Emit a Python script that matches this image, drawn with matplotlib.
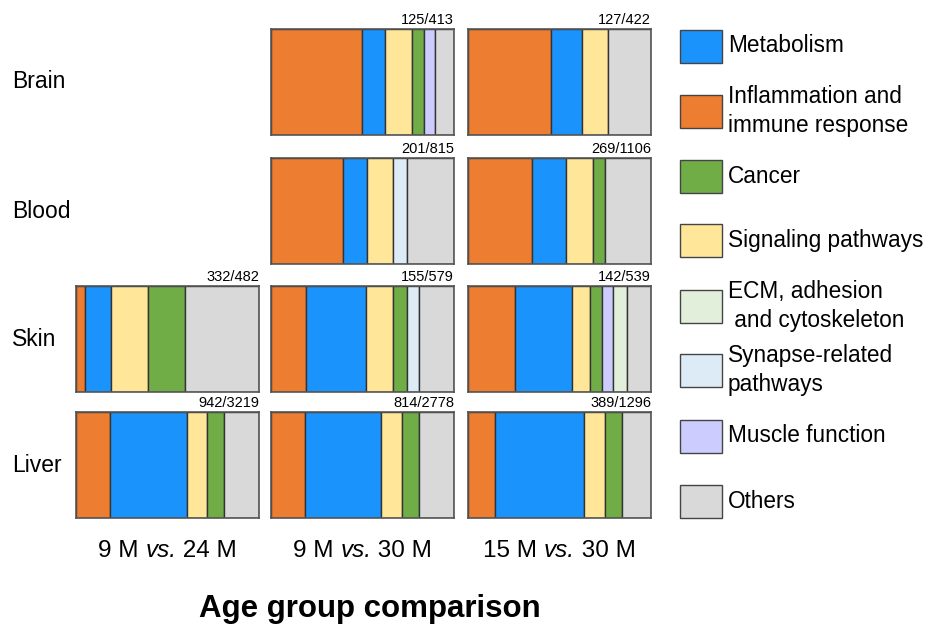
import matplotlib
matplotlib.use('Agg')
import matplotlib.pyplot as plt
import matplotlib.patches as patches

plt.rcParams['font.family'] = ['Liberation Sans', 'DejaVu Sans']
plt.rcParams['mathtext.fontset'] = 'custom'
plt.rcParams['mathtext.rm'] = 'Liberation Sans'
plt.rcParams['mathtext.it'] = 'Liberation Sans:italic'

#%% Data (percent of enriched terms)

tissues = ['Brain', 'Blood', 'Skin', 'Liver']
comparisons = ['9 M $\\it{vs.}$ 24 M', '9 M $\\it{vs.}$ 30 M', '15 M $\\it{vs.}$ 30 M']

# order of segments in each bar
bar_order = ['Inflammation', 'Metabolism', 'Signaling', 'Cancer', 'Muscle', 'Synapse', 'ECM', 'Others']

brain_9v30  = [49.5, 13.0, 14.3, 6.6, 5.9, 0, 0, 10.6]
brain_15v30 = [45.6, 16.5, 14.7, 0, 0, 0, 0, 23.3]
blood_9v30  = [39.1, 13.2, 14.5, 0, 0, 7.5, 0, 25.7]
blood_15v30 = [34.8, 18.5, 15.0, 6.4, 0, 0, 0, 25.3]
skin_9v24   = [5.0, 13.9, 20.2, 20.4, 0, 0, 0, 40.5]
skin_9v30   = [18.9, 33.1, 14.9, 7.6, 0, 6.3, 0, 19.2]
skin_15v30  = [25.5, 31.4, 9.7, 6.5, 6.1, 0, 7.8, 12.9]
liver_9v24  = [18.5, 42.2, 10.7, 9.2, 0, 0, 0, 19.3]
liver_9v30  = [18.4, 41.8, 11.2, 9.3, 0, 0, 0, 19.4]
liver_15v30 = [15.0, 48.5, 11.2, 9.5, 0, 0, 0, 15.8]

counts = {(0, 1): '125/413', (0, 2): '127/422',
          (1, 1): '201/815', (1, 2): '269/1106',
          (2, 0): '332/482', (2, 1): '155/579', (2, 2): '142/539',
          (3, 0): '942/3219', (3, 1): '814/2778', (3, 2): '389/1296'}

panels = {(0, 1): brain_9v30, (0, 2): brain_15v30,
          (1, 1): blood_9v30, (1, 2): blood_15v30,
          (2, 0): skin_9v24, (2, 1): skin_9v30, (2, 2): skin_15v30,
          (3, 0): liver_9v24, (3, 1): liver_9v30, (3, 2): liver_15v30}

legend_labels = ['Metabolism', 'Inflammation and\nimmune response', 'Cancer', 'Signaling pathways',
                 'ECM, adhesion\n and cytoskeleton', 'Synapse-related\npathways', 'Muscle function', 'Others']
legend_keys = ['Metabolism', 'Inflammation', 'Cancer', 'Signaling', 'ECM', 'Synapse', 'Muscle', 'Others']

colors = {'Metabolism': '#1B93FD', 'Inflammation': '#ED7D31', 'Cancer': '#70AD47',
          'Signaling': '#FFE699', 'ECM': '#E2EFDA', 'Synapse': '#DDEBF7',
          'Muscle': '#CCCCFF', 'Others': '#D9D9D9'}

#%% Figure

W, H = 932., 625.
fig = plt.figure(figsize=(W/100, H/100), dpi=100)

col_x = [76, 271, 468]
row_y = [29, 158, 286, 412]
pw, ph = 183, 106

def fx(x): return x/W
def fy(y): return 1 - y/H

for (r, c), vals in panels.items():
    ax = fig.add_axes([fx(col_x[c]), fy(row_y[r]+ph), pw/W, ph/H])
    left = 0
    for key, v in zip(bar_order, vals):
        if v <= 0:
            continue
        ax.barh(0, v, left=left, height=1, color=colors[key], edgecolor='#333333', linewidth=1)
        left += v
    ax.set_xlim(0, left)
    ax.set_ylim(-0.5, 0.5)
    ax.set_xticks([]); ax.set_yticks([])
    for s in ax.spines.values():
        s.set_edgecolor('#555555'); s.set_linewidth(1.2)
    ax.text(1, 1.02, counts[(r, c)], transform=ax.transAxes, ha='right', va='bottom', fontsize=10.5)

for r, t in enumerate(tissues):
    fig.text(fx(12), fy(row_y[r]+ph/2), t, ha='left', va='center', fontsize=16.5)

# comparison labels: "vs." in italics, drawn as three pieces side by side
for c, t in enumerate(comparisons):
    pre, mid, post = t.replace('$\\it{', '|').replace('}$', '|').split('|')
    xc, yb = col_x[c]+pw/2, 557
    t1 = fig.text(0, 0, pre, fontsize=17.5)
    t2 = fig.text(0, 0, mid, fontsize=17.5, style='italic')
    t3 = fig.text(0, 0, post, fontsize=17.5)
    rend = fig.canvas.get_renderer()
    w1 = t1.get_window_extent(rend).width
    w2 = t2.get_window_extent(rend).width
    w3 = t3.get_window_extent(rend).width
    x0 = xc - (w1+w2+w3)/2
    t1.set_position((fx(x0), fy(yb)))
    t2.set_position((fx(x0+w1), fy(yb)))
    t3.set_position((fx(x0+w1+w2), fy(yb)))
    for tt in (t1, t2, t3):
        tt.set_va('baseline')

fig.text(fx(370), fy(617), 'Age group comparison', ha='center', va='baseline', fontsize=22.5, fontweight='bold')

# legend
leg_y = [46, 111, 176, 241, 306, 370, 436, 501]
for key, lab, yc in zip(legend_keys, legend_labels, leg_y):
    fig.add_artist(patches.Rectangle((fx(680), fy(yc+16.5)), 42/W, 33/H, transform=fig.transFigure,
                                     facecolor=colors[key], edgecolor='#444444', linewidth=1))
    fig.text(fx(728), fy(yc), lab, ha='left', va='center', fontsize=16.3, linespacing=1.3)

plt.savefig('out.png', dpi=100)
